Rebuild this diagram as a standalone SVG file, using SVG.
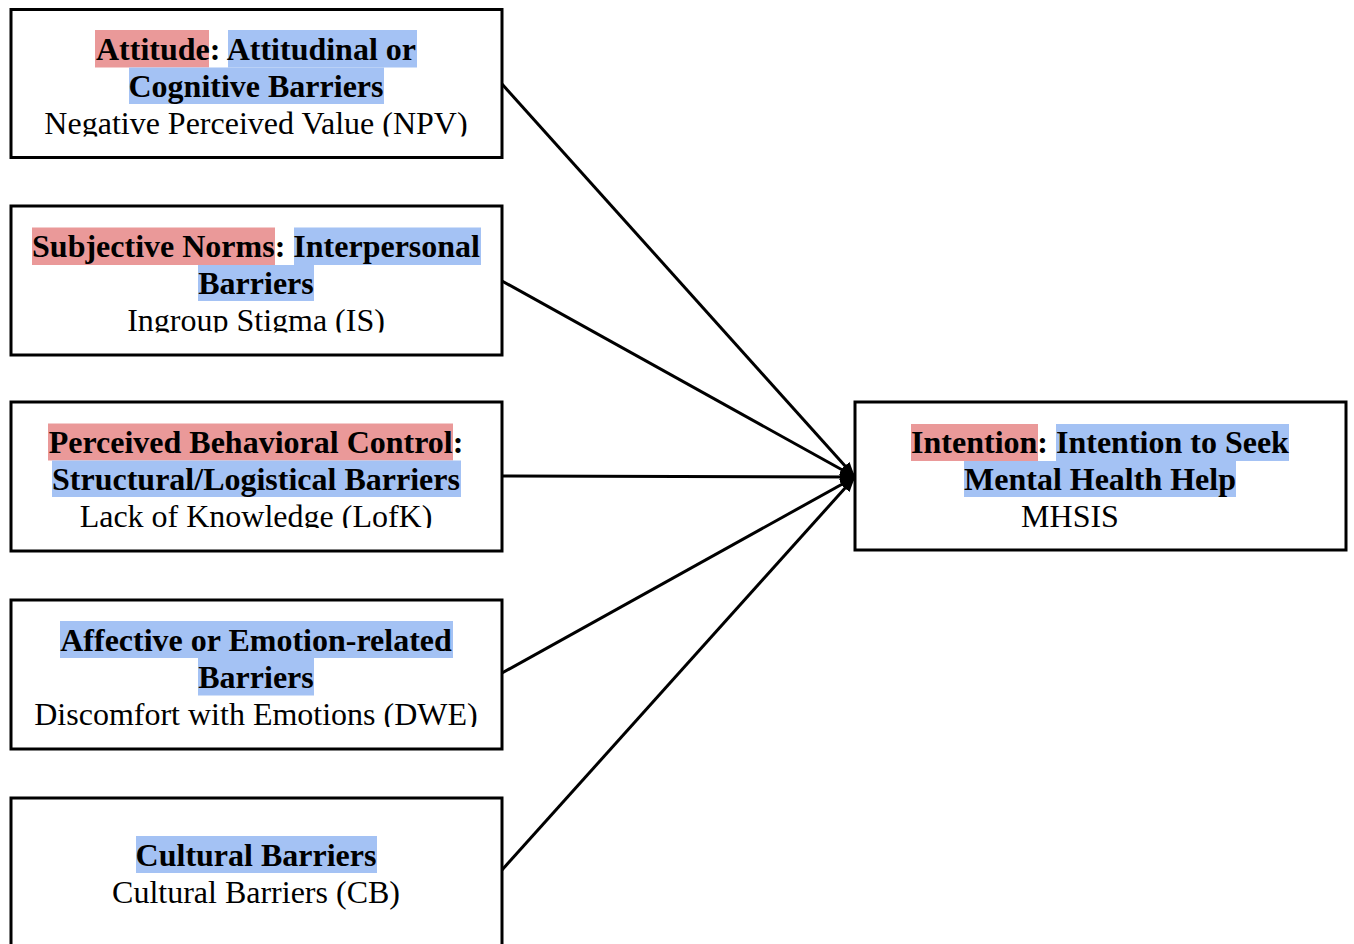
<svg xmlns="http://www.w3.org/2000/svg" width="1354" height="944" viewBox="0 0 1354 944">
<style>
.box{fill:#fff;stroke:#000;stroke-width:3}
.b{font-family:"Liberation Serif","Times New Roman",serif;font-weight:bold;font-size:32px;fill:#000;text-anchor:middle}
.r{font-family:"Liberation Serif","Times New Roman",serif;font-size:32px;fill:#000;text-anchor:middle}
.hr{fill:#EA9999}
.hb{fill:#A4C2F4}
.conn line{stroke:#000;stroke-width:3}
</style>
<defs>
<marker id="ah" markerUnits="userSpaceOnUse" markerWidth="16" markerHeight="14" refX="15" refY="7" orient="auto">
<path d="M0,1 L15,7 L0,13 Z" fill="#000"/>
</marker>
<clipPath id="c1"><rect x="0" y="0" width="520" height="136.5"/></clipPath>
<clipPath id="c2"><rect x="0" y="190" width="520" height="142.5"/></clipPath>
<clipPath id="c3"><rect x="0" y="390" width="520" height="138"/></clipPath>
<clipPath id="c4"><rect x="0" y="590" width="520" height="137"/></clipPath>
</defs>
<rect width="1354" height="944" fill="#fff"/>
<g id="connectors" class="conn">
<line x1="502" y1="84" x2="855" y2="477" marker-end="url(#ah)"/>
<line x1="502" y1="281" x2="855" y2="477" marker-end="url(#ah)"/>
<line x1="502" y1="476" x2="855" y2="477" marker-end="url(#ah)"/>
<line x1="502" y1="673" x2="855" y2="477" marker-end="url(#ah)"/>
<line x1="502" y1="870" x2="855" y2="477" marker-end="url(#ah)"/>
</g>
<g id="node-attitude">
<rect class="box" x="11" y="9.5" width="491" height="148"/>
<rect class="hr" x="95" y="30" width="114" height="37.5"/>
<rect class="hb" x="228" y="30" width="189" height="37.5"/>
<rect class="hb" x="129" y="67.5" width="255" height="36.5"/>
<text class="b" x="256" y="59.5">Attitude: Attitudinal or</text>
<text class="b" x="256" y="96.5">Cognitive Barriers</text>
<g clip-path="url(#c1)"><text class="r" x="256" y="133.5">Negative Perceived Value (NPV)</text></g>
</g>
<g id="node-subjective-norms">
<rect class="box" x="11" y="206" width="491" height="149"/>
<rect class="hr" x="32" y="227.5" width="243" height="37.5"/>
<rect class="hb" x="294" y="227.5" width="187" height="37.5"/>
<rect class="hb" x="198" y="265" width="116" height="36"/>
<text class="b" x="256" y="257">Subjective Norms: Interpersonal</text>
<text class="b" x="256" y="294">Barriers</text>
<g clip-path="url(#c2)"><text class="r" x="256" y="331">Ingroup Stigma (IS)</text></g>
</g>
<g id="node-pbc">
<rect class="box" x="11" y="402" width="491" height="149"/>
<rect class="hr" x="48" y="423.5" width="405" height="37"/>
<rect class="hb" x="52" y="460.5" width="409" height="36.5"/>
<text class="b" x="256" y="453">Perceived Behavioral Control:</text>
<text class="b" x="256" y="490">Structural/Logistical Barriers</text>
<g clip-path="url(#c3)"><text class="r" x="256" y="527">Lack of Knowledge (LofK)</text></g>
</g>
<g id="node-affective">
<rect class="box" x="11" y="600" width="491" height="149"/>
<rect class="hb" x="60" y="621" width="393" height="37"/>
<rect class="hb" x="198" y="658" width="116" height="37.5"/>
<text class="b" x="256" y="650.5">Affective or Emotion-related</text>
<text class="b" x="256" y="687.5">Barriers</text>
<g clip-path="url(#c4)"><text class="r" x="256" y="724.5">Discomfort with Emotions (DWE)</text></g>
</g>
<g id="node-cultural">
<rect class="box" x="11" y="798" width="491" height="160"/>
<rect class="hb" x="136" y="836" width="241" height="37"/>
<text class="b" x="256" y="865.5">Cultural Barriers</text>
<text class="r" x="256" y="902.5">Cultural Barriers (CB)</text>
</g>
<g id="node-intention">
<rect class="box" x="855" y="402" width="491" height="148"/>
<rect class="hr" x="911" y="424" width="127" height="37"/>
<rect class="hb" x="1056" y="424" width="233" height="37"/>
<rect class="hb" x="964" y="461" width="272" height="36"/>
<text class="b" x="1100" y="453">Intention: Intention to Seek</text>
<text class="b" x="1100" y="490">Mental Health Help</text>
<text class="r" x="1070" y="527">MHSIS</text>
</g>
</svg>
